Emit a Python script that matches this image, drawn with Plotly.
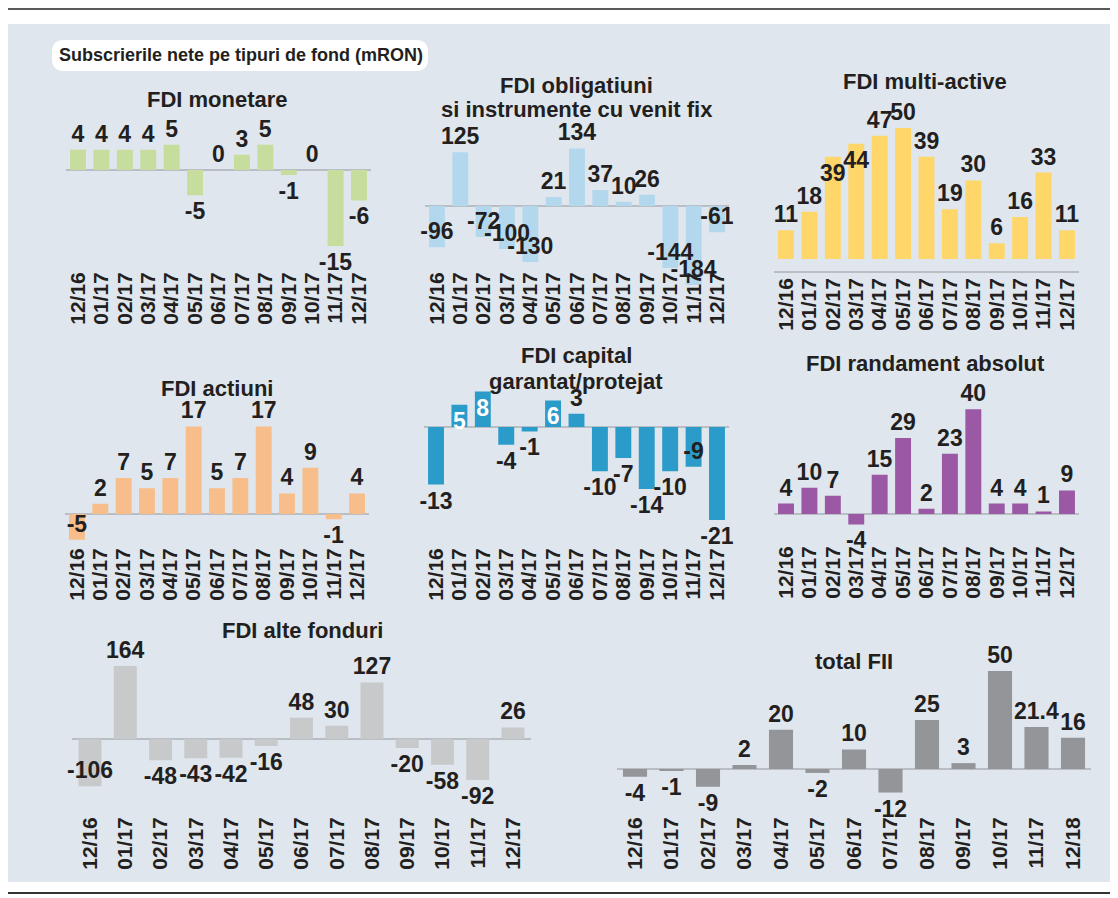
import plotly.graph_objects as go

W, H = 1118, 898
OFF = 8  # page body margin of the html page

# ---------------- data ----------------
months = ["12/16", "01/17", "02/17", "03/17", "04/17", "05/17", "06/17",
          "07/17", "08/17", "09/17", "10/17", "11/17", "12/17"]
months_total = ["12/16", "01/17", "02/17", "03/17", "04/17", "05/17", "06/17",
                "07/17", "08/17", "09/17", "10/17", "11/17", "12/18"]

monetare = [4, 4, 4, 4, 5, -5, 0, 3, 5, -1, 0, -15, -6]
obligatiuni = [-96, 125, -72, -100, -130, 21, 134, 37, 10, 26, -144, -184, -61]
multi_active = [11, 18, 39, 44, 47, 50, 39, 19, 30, 6, 16, 33, 11]
actiuni = [-5, 2, 7, 5, 7, 17, 5, 7, 17, 4, 9, -1, 4]
capital_garantat = [-13, 5, 8, -4, -1, 6, 3, -10, -7, -14, -10, -9, -21]
randament_absolut = [4, 10, 7, -4, 15, 29, 2, 23, 40, 4, 4, 1, 9]
alte_fonduri = [-106, 164, -48, -43, -42, -16, 48, 30, 127, -20, -58, -92, 26]
total_fii = [-4, -1, -9, 2, 20, -2, 10, -12, 25, 3, 50, 21.4, 16]

main_title = "Subscrierile nete pe tipuri de fond (mRON)"

# ---------------- styling / layout config ----------------
FONT = "Liberation Sans, Arial, sans-serif"
TXT = "#231f20"
TICK_SIZE = 21
LABEL_SIZE = 23
TITLE_SIZE = 22


def X(px):
    return (px - OFF) / W


def Y(py):
    return 1 - (py - OFF) / H


# each panel: plot-area pixel box (L, R, T, B), zero pixel, px per unit,
# indices of labels drawn inside the bar end (dark) or inside in white
panels = [
    dict(cats=months, vals=monetare, color="#c6dd9e", L=66.3, R=370.7, T=115, B=268,
         z=170, s=5.07, lab_top=272, width=0.68,
         title=["FDI monetare"], tx=217, ty=[100]),
    dict(cats=months, vals=obligatiuni, color="#b3d8ee", L=425.3, R=728.7, T=115, B=290,
         z=206, s=0.43, lab_top=272, width=0.68,
         inside_dark=[0, 2, 3, 4, 10, 11, 12],
         title=["FDI obligatiuni", "si instrumente cu venit fix"], tx=577, ty=[85, 110]),
    dict(cats=months, vals=multi_active, color="#fed66a", L=774.3, R=1078.7, T=110, B=271,
         z=259, s=2.62, lab_top=273, width=0.68, baseline_bottom=True,
         inside_dark=[2, 3],
         title=["FDI multi-active"], tx=925, ty=[82]),
    dict(cats=months, vals=actiuni, color="#f7be8b", L=65.3, R=368.7, T=400, B=544,
         z=514, s=5.15, lab_top=548, width=0.68,
         inside_dark=[0],
         title=["FDI actiuni"], tx=217, ty=[388]),
    dict(cats=months, vals=capital_garantat, color="#2b9bca", L=424.3, R=728.7, T=385, B=525,
         z=427, s=4.43, lab_top=548, width=0.68,
         inside_white=[1, 2, 5], inside_dark=[11],
         title=["FDI capital", "garantat/protejat"], tx=576, ty=[355, 382]),
    dict(cats=months, vals=randament_absolut, color="#9a58a5", L=774.3, R=1078.7, T=395, B=530,
         z=514, s=2.62, lab_top=546, width=0.68,
         title=["FDI randament absolut"], tx=925, ty=[363]),
    dict(cats=months, vals=alte_fonduri, color="#c8c9cb", L=72.4, R=530.6, T=650, B=790,
         z=739, s=0.445, lab_top=817, width=0.65,
         inside_dark=[0],
         title=["FDI alte fonduri"], tx=302, ty=[630]),
    dict(cats=months_total, vals=total_fii, color="#939598", L=616.75, R=1091.25, T=660, B=795,
         z=769, s=1.96, lab_top=817, width=0.66,
         title=["total FII"], tx=854, ty=[661]),
]

LABEL_GAP = 5  # default offset of rotated tick labels below plot area

fig = go.Figure()
annotations = []
shapes = []


def fmt(v):
    return str(v) if isinstance(v, float) else str(int(v))


for i, p in enumerate(panels, start=1):
    xa = "x" if i == 1 else f"x{i}"
    ya = "y" if i == 1 else f"y{i}"
    xkey = "xaxis" if i == 1 else f"xaxis{i}"
    ykey = "yaxis" if i == 1 else f"yaxis{i}"
    n = len(p["vals"])
    in_white = p.get("inside_white", [])
    in_dark = p.get("inside_dark", [])
    textpos = ["inside" if (k in in_white or k in in_dark) else "outside" for k in range(n)]
    textcol = ["white" if k in in_white else TXT for k in range(n)]
    # bars
    fig.add_trace(go.Bar(
        x=p["cats"], y=p["vals"], xaxis=xa, yaxis=ya,
        marker=dict(color=p["color"], line=dict(width=0)),
        width=p["width"], showlegend=False, hoverinfo="skip",
    ))
    # value labels, drawn on top of all bars
    fig.add_trace(go.Bar(
        x=p["cats"], y=p["vals"], xaxis=xa, yaxis=ya,
        marker=dict(color="rgba(0,0,0,0)", line=dict(width=0)),
        width=p["width"],
        text=[fmt(v) for v in p["vals"]],
        textposition=textpos,
        insidetextanchor="end",
        textangle=0,
        textfont=dict(family=FONT, size=LABEL_SIZE, color=textcol, weight="bold"),
        constraintext="none",
        cliponaxis=False,
        showlegend=False,
        hoverinfo="skip",
    ))
    ytop = (p["z"] - p["T"]) / p["s"]
    ybot = -(p["B"] - p["z"]) / p["s"]
    baseline_bottom = p.get("baseline_bottom", False)
    fig.update_layout(**{
        xkey: dict(domain=[X(p["L"]), X(p["R"])], anchor=ya,
                   range=[-0.5, n - 0.5], type="category",
                   tickmode="array", tickvals=p["cats"], ticktext=p["cats"],
                   showgrid=False, zeroline=False, ticks="",
                   showline=baseline_bottom, linecolor="#b9bec4", linewidth=1.5,
                   tickangle=-90,
                   tickfont=dict(family=FONT, size=TICK_SIZE, color=TXT, weight="bold"),
                   ticklabelstandoff=int(round(p["lab_top"] - p["B"] - LABEL_GAP)),
                   fixedrange=True),
        ykey: dict(domain=[Y(p["B"]), Y(p["T"])], anchor=xa,
                   range=[ybot, ytop], showgrid=False,
                   zeroline=not baseline_bottom, zerolinecolor="#b9bec4", zerolinewidth=1.5,
                   showticklabels=False, ticks="", showline=False, fixedrange=True),
    })
    for line, yy in zip(p["title"], p["ty"]):
        annotations.append(dict(
            text=line, x=X(p["tx"]), y=Y(yy), xref="paper", yref="paper",
            xanchor="center", yanchor="middle", showarrow=False,
            font=dict(family=FONT, size=TITLE_SIZE, color=TXT, weight="bold")))

# main title in white rounded box
bx0, bx1, by0, by1, r = 52, 428, 40, 71, 12


def P(x, y):
    return f"{X(x):.5f},{Y(y):.5f}"


path = (f"M {P(bx0 + r, by0)} L {P(bx1 - r, by0)} Q {P(bx1, by0)} {P(bx1, by0 + r)} "
        f"L {P(bx1, by1 - r)} Q {P(bx1, by1)} {P(bx1 - r, by1)} "
        f"L {P(bx0 + r, by1)} Q {P(bx0, by1)} {P(bx0, by1 - r)} "
        f"L {P(bx0, by0 + r)} Q {P(bx0, by0)} {P(bx0 + r, by0)} Z")
shapes.append(dict(type="path", path=path, xref="paper", yref="paper",
                   fillcolor="white", line=dict(width=0), layer="below"))
annotations.append(dict(
    text=main_title, x=X(241), y=Y(55), xref="paper", yref="paper",
    xanchor="center", yanchor="middle", showarrow=False,
    font=dict(family=FONT, size=18, color=TXT, weight="bold")))

# background panel and frame lines
shapes.insert(0, dict(type="rect", xref="paper", yref="paper",
                      x0=X(7), x1=X(1110), y0=Y(882), y1=Y(24),
                      fillcolor="#dfe6ed", line=dict(width=0), layer="below"))
shapes.append(dict(type="line", xref="paper", yref="paper",
                   x0=X(0), x1=X(1117), y0=Y(9), y1=Y(9),
                   line=dict(color="#5a5a5a", width=2), layer="below"))
shapes.append(dict(type="line", xref="paper", yref="paper",
                   x0=X(0), x1=X(1117), y0=Y(893), y1=Y(893),
                   line=dict(color="#333333", width=2), layer="below"))
shapes.append(dict(type="line", xref="paper", yref="paper",
                   x0=X(1116.5), x1=X(1116.5), y0=Y(893), y1=Y(9),
                   line=dict(color="#9a9a9a", width=1), layer="below"))

fig.update_layout(
    width=W, height=H,
    margin=dict(l=0, r=0, t=0, b=0),
    paper_bgcolor="white", plot_bgcolor="rgba(0,0,0,0)",
    barmode="overlay",
    annotations=annotations, shapes=shapes,
    font=dict(family=FONT, color=TXT),
    showlegend=False,
)

fig.write_html("out.html", config={"displayModeBar": False})
